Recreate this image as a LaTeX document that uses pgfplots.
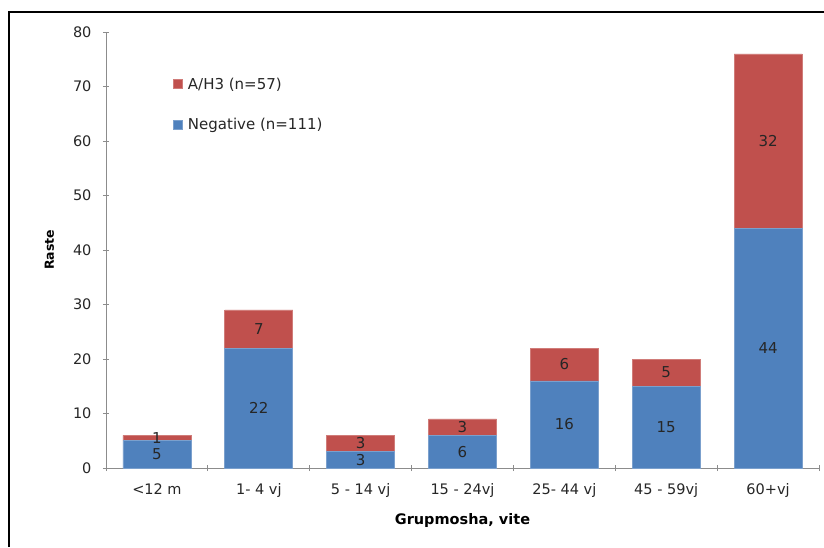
\documentclass[border=0pt]{standalone}
\usepackage{pgfplots}
\pgfplotsset{compat=1.18}
\usepackage{fontspec}
\setmainfont{DejaVu Sans}
\definecolor{negblue}{HTML}{4F81BD}
\definecolor{h3red}{HTML}{C0504D}
\definecolor{axgray}{HTML}{8C8C8C}
\pgfplotsset{
  sqlegend/.style={legend image code/.code={\fill[##1] (0pt,-4.5pt) rectangle (9pt,4.5pt);}}
}
\begin{document}
\begin{tikzpicture}[x=1pt,y=1pt]
\useasboundingbox (0,0) rectangle (824,547);
\draw[line width=1.4pt] (9,0) -- (9,535) -- (824,535);
\begin{axis}[
  at={(106pt,79pt)}, anchor=south west,
  scale only axis, width=713pt, height=436pt,
  ybar stacked, bar width=68pt,
  xmin=-0.5, xmax=6.5, ymin=0, ymax=80,
  ytick={0,10,...,80},
  xtick={0,...,6},
  xticklabels={<12 m, 1- 4 vj, 5 - 14 vj, 15 - 24vj, 25- 44 vj, 45 - 59vj, 60+vj},
  minor xtick={-0.5,0.5,...,6.5},
  major x tick style={draw=none},
  minor x tick style={draw=axgray, line width=0.9pt},
  major y tick style={draw=axgray, line width=0.9pt},
  major tick length=6pt, minor tick length=6pt,
  tick align=outside,
  axis x line=bottom, axis y line=left,
  axis line style={-, draw=axgray, line width=0.9pt},
  tick label style={font=\fontsize{14.5}{16}\selectfont, text=black!85},
  /pgf/number format/assume math mode=true,
  xticklabel style={yshift=-9pt},
  yticklabel style={xshift=-8pt},
  xlabel={\textbf{Grupmosha, vite}},
  ylabel={\textbf{Raste}},
  xlabel style={font=\fontsize{14.5}{16}\selectfont, yshift=-9pt},
  ylabel style={font=\fontsize{12.5}{14}\selectfont, yshift=12pt},
  % stacked segments: label each one with its own (unstacked) value
  visualization depends on=rawy\as\rawy,
  nodes near coords={\pgfmathprintnumber{\rawy}},
  every node near coord/.append style={anchor=center,
    font=\fontsize{15}{16}\selectfont, text=black!85},
  reverse legend,
  legend style={at={(0.09,0.905)}, anchor=north west, draw=none, fill=none,
    font=\fontsize{15}{17}\selectfont, row sep=24pt, text=black!85,
    /tikz/every even column/.append style={column sep=1pt}},
  legend cell align=left,
  legend style={nodes={inner xsep=5pt}},
  clip=false,
]
\addplot[fill=negblue, draw=negblue!75!white, line width=0.6pt, sqlegend] coordinates {
  (0,5) (1,22) (2,3) (3,6) (4,16) (5,15) (6,44)};
\addplot[fill=h3red, draw=h3red!75!white, line width=0.6pt, sqlegend] coordinates {
  (0,1) (1,7) (2,3) (3,3) (4,6) (5,5) (6,32)};
\legend{Negative (n=111), A/H3 (n=57)}
\end{axis}
\end{tikzpicture}
\end{document}
